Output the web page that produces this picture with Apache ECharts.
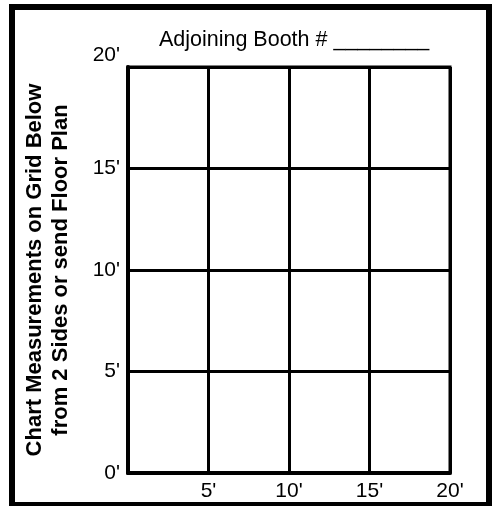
<!DOCTYPE html>
<html>
<head>
<meta charset="utf-8">
<script src="https://cdn.jsdelivr.net/npm/echarts@6/dist/echarts.min.js"></script>
<style>
html,body{margin:0;padding:0;background:#fff;}
#chart{width:496px;height:506px;}
</style>
</head>
<body>
<div id="chart"></div>
<script>
const titleText = "Adjoining Booth # ________";
const yAxisName = "Chart Measurements on Grid Below\nfrom 2 Sides or send Floor Plan";
const xTicks = [0, 5, 10, 15, 20];
const xTickLabels = ["", "5'", "10'", "15'", "20'"];
const yTicks = [0, 5, 10, 15, 20];
const yTickLabels = ["0'", "5'", "10'", "15'", "20'"];
const axisMin = 0, axisMax = 20, axisStep = 5;

const font = "'Liberation Sans', Arial, sans-serif";
const chart = echarts.init(document.getElementById('chart'));
chart.setOption({
  animation: false,
  backgroundColor: '#fff',
  title: {
    text: titleText,
    left: 289,
    top: 24,
    textAlign: 'center',
    textStyle: { fontFamily: font, fontSize: 21.5, fontWeight: 'normal', color: '#000' }
  },
  graphic: [{
    type: 'rect',
    shape: { x: 12, y: 7, width: 477, height: 498 },
    style: { fill: 'none', stroke: '#000', lineWidth: 6 },
    silent: true
  }],
  grid: { left: 128, right: 46, top: 67, bottom: 33, show: true, borderColor: '#000', borderWidth: 3 },
  xAxis: {
    type: 'value', min: axisMin, max: axisMax, interval: axisStep,
    axisLine: { show: true, lineStyle: { color: '#000', width: 4 } },
    axisTick: { show: false },
    splitLine: { show: true, lineStyle: { color: '#000', width: 3 } },
    axisLabel: {
      margin: 8, color: '#000', fontFamily: font, fontSize: 21,
      formatter: v => xTickLabels[xTicks.indexOf(v)]
    }
  },
  yAxis: {
    type: 'value', min: axisMin, max: axisMax, interval: axisStep,
    name: yAxisName,
    nameLocation: 'middle',
    nameRotate: 90,
    nameGap: 54,
    nameTextStyle: { fontFamily: font, fontSize: 22, fontWeight: 'bold', color: '#000', lineHeight: 26, align: 'center' },
    axisLine: { show: true, lineStyle: { color: '#000', width: 4 } },
    axisTick: { show: false },
    splitLine: { show: true, lineStyle: { color: '#000', width: 3 } },
    axisLabel: {
      margin: 8, color: '#000', fontFamily: font, fontSize: 21,
      formatter: v => {
        const s = yTickLabels[yTicks.indexOf(v)];
        return v === axisMax ? '{top|' + s + '}' : s;
      },
      rich: { top: { fontFamily: font, fontSize: 21, color: '#000', padding: [0, 0, 24, 0] } }
    }
  },
  series: [{ type: 'line', data: [] }]
});
</script>
</body>
</html>
